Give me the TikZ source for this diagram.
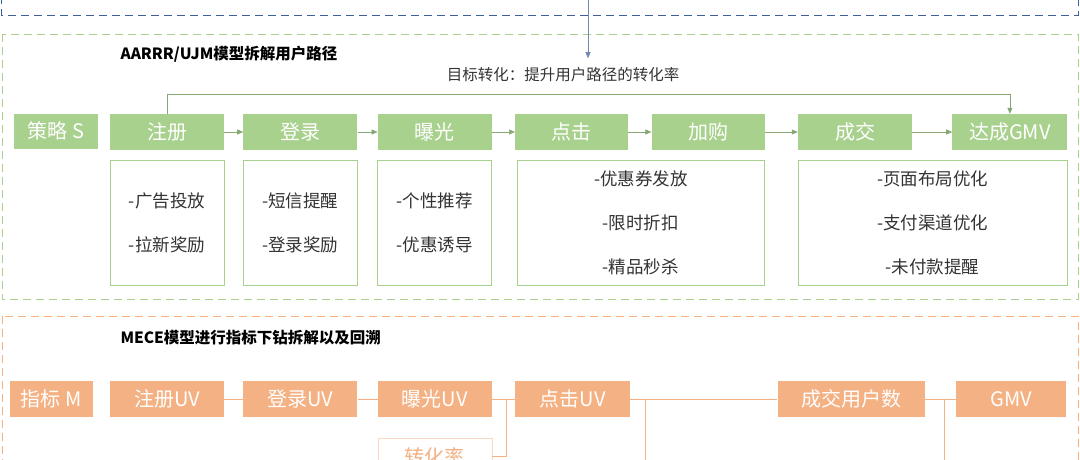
\documentclass[tikz,border=0pt]{standalone}
\usepackage{fontspec}
\setmainfont{Noto Sans CJK SC}
\usepackage{xcolor}
\usepackage{tikz}
\usetikzlibrary{arrows.meta, positioning}

\definecolor{stgreen}{HTML}{A9D18E}
\definecolor{stline}{HTML}{86A874}
\definecolor{mtorange}{HTML}{F4B183}
\definecolor{frblue}{HTML}{3F5F99}
\definecolor{txtgray}{HTML}{333333}

\begin{document}
\begin{tikzpicture}[
  x=1pt, y=-1pt,
  gbox/.style={rectangle, fill=stgreen, text=white, minimum width=114pt, minimum height=36pt, inner sep=0pt, font=\fontsize{20}{22}\selectfont},
  obox/.style={rectangle, fill=mtorange, text=white, minimum width=114pt, minimum height=36pt, inner sep=0pt, font=\fontsize{20}{22}\selectfont},
  detail/.style={rectangle, draw=stgreen, line width=0.8pt, fill=white, minimum width=114pt, minimum height=125pt, inner sep=0pt, text=txtgray, align=center, font=\fontsize{17.5}{44}\selectfont},
  title/.style={anchor=west, text=black, font=\fontsize{15.5}{18}\selectfont\bfseries},
  arr/.style={-{Triangle[length=6pt, width=5pt]}, draw=stline, line width=0.6pt},
  oline/.style={draw=mtorange, line width=0.8pt},
  frame/.style={dashed, dash pattern=on 8pt off 5pt, line width=0.9pt}
]
  \useasboundingbox (0,0) rectangle (1080,459);
  \clip (0,0) rectangle (1080,459);

  % frames
  \draw[frame, draw=frblue] (1,-30) rectangle (1078,15);
  \draw[frame, draw=stgreen] (2,34) rectangle (1078,299);
  \draw[frame, draw=mtorange] (2,316) rectangle (1078,500);

  \node[title] (ttop) at (117,54) {AARRR/UJM模型拆解用户路径};
  \node[title] (tbot) at (117,338) {MECE模型进行指标下钻拆解以及回溯};
  \node[font=\fontsize{15.5}{18}\selectfont, text=txtgray] (goal) at (563,75) {目标转化：提升用户路径的转化率};

  % strategy row
  \node[gbox, minimum width=84pt, minimum height=35pt] (stg) at (56,131) {策略 S};
  \node[gbox] (reg) at (167,132) {注册};
  \node[gbox, right=19pt of reg] (login) {登录};
  \node[gbox, right=20pt of login] (expo) {曝光};
  \node[gbox, minimum width=113pt, right=23pt of expo] (click) {点击};
  \node[gbox, minimum width=113pt, right=23pt of click] (cart) {加购};
  \node[gbox, right=33pt of cart] (deal) {成交};
  \node[gbox, minimum width=115pt, right=40pt of deal] (gmv) {达成GMV};

  \draw[arr] (reg) -- (login);
  \draw[arr] (login) -- (expo);
  \draw[arr] (expo) -- (click);
  \draw[arr] (click) -- (cart);
  \draw[arr] (cart) -- (deal);
  \draw[arr] (deal) -- (gmv);
  \draw[arr] (reg.north) -- ++(0,-20) -| (gmv.north);

  % goal from above
  \coordinate (bsrc) at (588,-10);
  \draw[-{Triangle[length=6pt, width=5pt]}, draw=frblue!75, line width=0.6pt] (bsrc) -- ([yshift=6pt]bsrc |- goal.north);

  % actions
  \node[detail, below=10pt of reg] (d1) {-广告投放\\-拉新奖励};
  \node[detail, below=10pt of login] (d2) {-短信提醒\\-登录奖励};
  \node[detail, below=10pt of expo] (d3) {-个性推荐\\-优惠诱导};
  \node[detail, minimum width=247pt, anchor=north west] (d4) at ([xshift=2pt, yshift=-10pt]click.south west) {-优惠券发放\\-限时折扣\\-精品秒杀};
  \node[detail, minimum width=269pt, anchor=north west] (d5) at ([yshift=-10pt]deal.south west) {-页面布局优化\\-支付渠道优化\\-未付款提醒};

  % metric row
  \node[obox, minimum width=83pt] (mtag) at (51,399) {指标 M};
  \node[obox] (mreg) at (167,399) {注册UV};
  \node[obox, right=19pt of mreg] (mlogin) {登录UV};
  \node[obox, right=20pt of mlogin] (mexpo) {曝光UV};
  \node[obox, minimum width=115pt, right=23pt of mexpo] (mclick) {点击UV};
  \node[obox, minimum width=147pt, right=147pt of mclick] (mdeal) {成交用户数};
  \node[obox, minimum width=110pt, right=31pt of mdeal] (mgmv) {GMV};
  \node[obox, fill=white, draw=mtorange!50, text=mtorange, below=21pt of mexpo] (mrate) {转化率};

  \coordinate (clickfoot) at (645,480);
  \coordinate (dealfoot) at (944,480);

  \draw[oline] (mreg) -- (mlogin);
  \draw[oline] (mlogin) -- (mexpo);
  \draw[oline] (mexpo) -- (mclick);
  \draw[oline] (mexpo.east) -- ++(14,0) |- (mrate.east);
  \draw[oline] (mclick) -- (mdeal);
  \draw[oline] (mclick.east) -- (mclick.east -| clickfoot) -- (clickfoot);
  \draw[oline] (mdeal) -- (mgmv);
  \draw[oline] (mdeal.east) -- (mdeal.east -| dealfoot) -- (dealfoot);
\end{tikzpicture}
\end{document}
